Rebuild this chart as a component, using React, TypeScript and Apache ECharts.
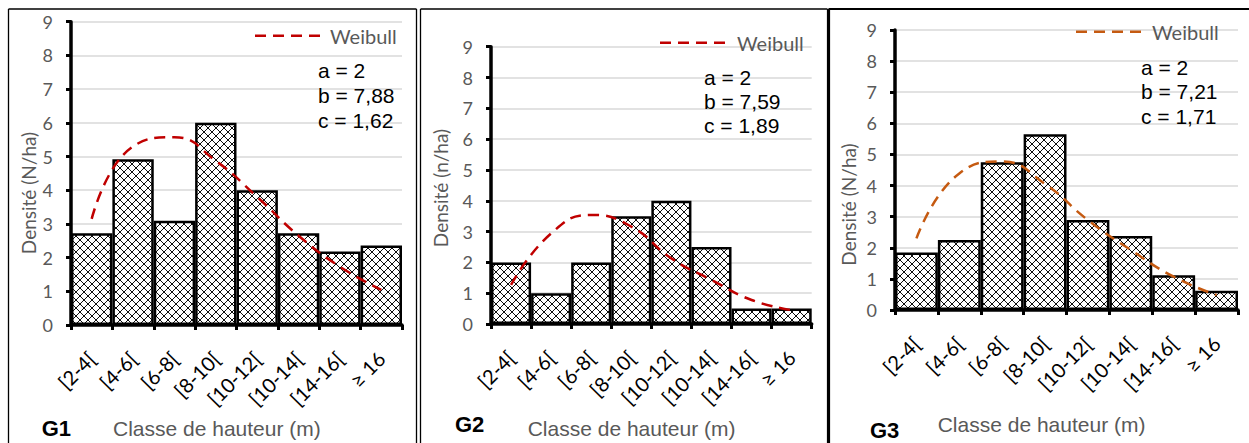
import React, { useEffect, useRef } from 'react';
import * as echarts from 'echarts';

// ---------- data ----------
const categories = ['[2-4[', '[4-6[', '[6-8[', '[8-10[', '[10-12[', '[10-14[', '[14-16[', '≥ 16'];

const g1Bars = [2.72, 4.92, 3.09, 6.0, 4.0, 2.72, 2.18, 2.36];
const g1Weibull = [3.15, 5.3, 5.57, 4.87, 3.8, 2.65, 1.73, 1.04];

const g2Bars = [2.0, 1.0, 2.0, 3.5, 4.0, 2.5, 0.5, 0.5];
const g2Weibull = [1.27, 2.94, 3.54, 3.16, 2.13, 1.43, 0.78, 0.45];

const g3Bars = [1.85, 2.25, 4.75, 5.65, 2.89, 2.38, 1.12, 0.62];
const g3Weibull = [2.3, 4.39, 4.77, 4.05, 2.89, 1.93, 1.07, 0.48];

const panelNames = ['G1', 'G2', 'G3'];
const yNames = ['Densité (N/ha)', 'Densité (n/ha)', 'Densité (N/ha)'];
const xName = 'Classe de hauteur (m)';
const legendName = 'Weibull';
const paramA = ['a = 2', 'a = 2', 'a = 2'];
const paramB = ['b = 7,88', 'b = 7,59', 'b = 7,21'];
const paramC = ['c = 1,62', 'c = 1,89', 'c = 1,71'];
const yMin = 0;
const yMax = 9;
const yStep = 1;

const barsAll = [g1Bars, g2Bars, g3Bars];
const weibullAll = [g1Weibull, g2Weibull, g3Weibull];

// ---------- layout ----------
const grids = [
  { left: 71, top: 21.7, width: 331, height: 303.3 },
  { left: 491, top: 46.7, width: 320.7, height: 277.3 },
  { left: 895, top: 30, width: 343, height: 280 },
];
const curveColors = ['#C00000', '#C00000', '#C55A11'];
const legendPos = [
  { x1: 255, x2: 320, y: 35.7, tx: 330 },
  { x1: 660, x2: 727, y: 42.7, tx: 737 },
  { x1: 1076, x2: 1142, y: 31.7, tx: 1152 },
];
const paramPos = [
  { x: 318, y: [70.5, 95.5, 120.5] },
  { x: 704, y: [77.5, 101.7, 125.7] },
  { x: 1141, y: [67, 91.5, 116] },
];
const yNamePos = [
  { x: 28, y: 193 },
  { x: 440, y: 188 },
  { x: 848, y: 204.5 },
];
const xNamePos = [
  { x: 113, y: 428.5 },
  { x: 527.7, y: 428 },
  { x: 937.7, y: 424 },
];
const gPos = [
  { x: 41.7, y: 428 },
  { x: 455, y: 424.5 },
  { x: 870, y: 430 },
];

function hatchUrl(): string {
  let lines = '';
  for (let k = -1; k <= 1; k++) {
    const o = k * 8;
    lines += `<line x1='${-8 + o}' y1='-8' x2='${16 + o}' y2='16'/>`;
  }
  for (let k = 0; k <= 2; k++) {
    const s = k * 8;
    lines += `<line x1='${s + 8}' y1='-8' x2='${s - 16}' y2='16'/>`;
  }
  const svg = `<svg xmlns='http://www.w3.org/2000/svg' width='8' height='8' viewBox='0 0 8 8'><rect width='8' height='8' fill='white'/><g stroke='black' stroke-width='0.95'>${lines}</g></svg>`;
  return 'data:image/svg+xml;charset=utf-8,' + encodeURIComponent(svg);
}

export default function App() {
  const ref = useRef<HTMLDivElement>(null);

  useEffect(() => {
    if (!ref.current) return;
    const chart = echarts.init(ref.current, undefined, { renderer: 'svg' });
    const pattern: any = {
      image: hatchUrl(),
      repeat: 'repeat',
      imageWidth: 8,
      imageHeight: 8,
    };

    const xAxis = grids.map((_, i) => ({
      type: 'category',
      gridIndex: i,
      data: categories,
      boundaryGap: true,
      axisLine: { show: true, lineStyle: { color: '#000', width: 3.5 } },
      axisTick: { show: true, alignWithLabel: false, length: 5, lineStyle: { color: '#000', width: 3 } },
      axisLabel: {
        rotate: 45,
        interval: 0,
        margin: 30,
        color: '#000',
        fontFamily: 'Lato',
        fontSize: 20,
      },
      splitLine: { show: false },
    }));

    const yAxis = grids.map((_, i) => ({
      type: 'value',
      gridIndex: i,
      min: yMin,
      max: yMax,
      interval: yStep,
      axisLine: { show: true, lineStyle: { color: '#000', width: 3.5 } },
      axisTick: { show: true, length: 5, lineStyle: { color: '#000', width: 3 } },
      axisLabel: { margin: 18, color: '#595959', fontFamily: 'Lato', fontSize: 18 },
      splitLine: { show: true, lineStyle: { color: '#d9d9d9', width: 1.5 } },
    }));

    const series: any[] = [];
    grids.forEach((_, i) => {
      series.push({
        type: 'bar',
        name: 'Densité ' + panelNames[i],
        xAxisIndex: i,
        yAxisIndex: i,
        data: barsAll[i],
        barCategoryGap: '0%',
        silent: true,
        itemStyle: { color: pattern, borderColor: '#000', borderWidth: 2.5 },
        z: 2,
      });
      series.push({
        type: 'line',
        name: legendName,
        xAxisIndex: i,
        yAxisIndex: i,
        data: weibullAll[i],
        smooth: 0.5,
        symbol: 'none',
        silent: true,
        lineStyle: { color: curveColors[i], width: 2.5, type: [11, 7] },
        z: 3,
      });
    });

    const graphic: any[] = [];
    const frame = (x1: number, y1: number, x2: number, y2: number, w: number) =>
      graphic.push({ type: 'line', silent: true, shape: { x1, y1, x2, y2 }, style: { stroke: '#000', lineWidth: w } });
    frame(8.5, 9, 416.5, 9, 1.3);
    frame(8.5, 9, 8.5, 443, 1.3);
    frame(416.5, 9, 416.5, 443, 1.3);
    frame(420.5, 9, 827.5, 9, 1.3);
    frame(420.5, 9, 420.5, 443, 1.3);
    frame(828.5, 9, 828.5, 443, 3.2);
    frame(828.5, 9, 1249, 9, 2);

    grids.forEach((_, i) => {
      const lp = legendPos[i];
      graphic.push({
        type: 'line',
        silent: true,
        shape: { x1: lp.x1, y1: lp.y, x2: lp.x2, y2: lp.y },
        style: { stroke: curveColors[i], lineWidth: 2.5, lineDash: [11, 7] },
        z: 10,
      });
      graphic.push({
        type: 'text',
        silent: true,
        x: lp.tx,
        y: lp.y,
        style: { text: legendName, fill: '#595959', fontFamily: 'Lato', fontSize: 20, align: 'left', verticalAlign: 'middle' },
        z: 10,
      });
      const pp = paramPos[i];
      [paramA[i], paramB[i], paramC[i]].forEach((t, j) => {
        graphic.push({
          type: 'text',
          silent: true,
          x: pp.x,
          y: pp.y[j],
          style: { text: t, fill: '#000', fontFamily: 'Liberation Sans', fontSize: 21, align: 'left', verticalAlign: 'middle' },
          z: 10,
        });
      });
      graphic.push({
        type: 'text',
        silent: true,
        x: yNamePos[i].x,
        y: yNamePos[i].y,
        rotation: Math.PI / 2,
        style: { text: yNames[i], fill: '#595959', fontFamily: 'Lato', fontSize: 19, align: 'center', verticalAlign: 'middle' },
      });
      graphic.push({
        type: 'text',
        silent: true,
        x: xNamePos[i].x,
        y: xNamePos[i].y,
        style: { text: xName, fill: '#595959', fontFamily: 'Liberation Sans', fontSize: 21, align: 'left', verticalAlign: 'middle' },
      });
      graphic.push({
        type: 'text',
        silent: true,
        x: gPos[i].x,
        y: gPos[i].y,
        style: { text: panelNames[i], fill: '#000', fontFamily: 'Liberation Sans', fontWeight: 'bold', fontSize: 22, align: 'left', verticalAlign: 'middle' },
      });
    });

    chart.setOption({
      animation: false,
      backgroundColor: '#fff',
      grid: grids.map((g) => ({ ...g, containLabel: false })),
      xAxis,
      yAxis,
      series,
      graphic,
    });

    return () => chart.dispose();
  }, []);

  return <div ref={ref} style={{ position: 'fixed', left: 0, top: 0, width: 1249, height: 443 }} />;
}
